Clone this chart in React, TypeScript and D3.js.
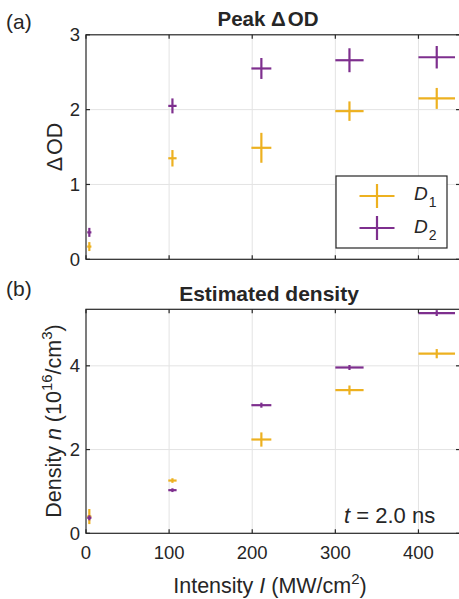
import React from "react";
import * as d3 from "d3";

const intensity = [4, 104, 211, 317, 422];
const intensityErr = [2.5, 5, 12, 17, 22];
const odD1 = [0.17, 1.35, 1.49, 1.98, 2.15];
const odD1Err = [0.06, 0.11, 0.2, 0.13, 0.14];
const odD2 = [0.36, 2.05, 2.55, 2.66, 2.7];
const odD2Err = [0.06, 0.1, 0.14, 0.16, 0.15];
const nD1 = [0.4, 1.26, 2.24, 3.42, 4.29];
const nD1Err = [0.18, 0.055, 0.17, 0.11, 0.11];
const nD2 = [0.37, 1.03, 3.06, 3.96, 5.26];
const nD2Err = [0.06, 0.045, 0.06, 0.06, 0.07];
const xTicks = [0, 100, 200, 300, 400];
const odTicks = [0, 1, 2, 3];
const nTicks = [0, 2, 4];

const C1 = "#EDB120";
const C2 = "#7E2F8E";
const AX = "#262626";
const GRID = "#e3e3e3";
const FONT = "'Liberation Sans', Arial, Helvetica, sans-serif";
const TICK_FS = 18.5;
const LABEL_FS = 21.5;

const x = d3.scaleLinear().domain([0, 450]).range([86, 460]);
const yTop = d3.scaleLinear().domain([0, 3]).range([259.3, 34.8]);
const yBot = d3.scaleLinear().domain([0, 5.35]).range([533.3, 309.3]);

function ErrSeries({ xs, xe, ys, ye, y, color }: any) {
  return (
    <g stroke={color} strokeWidth={2.2} fill="none">
      {xs.map((xv: number, i: number) => (
        <g key={i}>
          <line x1={x(xv - xe[i])} x2={x(xv + xe[i])} y1={y(ys[i])} y2={y(ys[i])} />
          <line x1={x(xv)} x2={x(xv)} y1={y(ys[i] - ye[i])} y2={y(ys[i] + ye[i])} />
        </g>
      ))}
    </g>
  );
}

function Grid({ y, yTicks }: any) {
  const [x0, x1] = x.range();
  const [y0, y1] = y.range();
  return (
    <g stroke={GRID} strokeWidth={1}>
      {xTicks.filter((t) => t > 0).map((t) => (
        <line key={"gx" + t} x1={x(t)} x2={x(t)} y1={y0} y2={y1} />
      ))}
      {yTicks.filter((t: number) => t > 0 && y(t) > y1 + 1).map((t: number) => (
        <line key={"gy" + t} x1={x0} x2={x1} y1={y(t)} y2={y(t)} />
      ))}
    </g>
  );
}

function Frame({ y, yTicks, showXLabels }: any) {
  const [x0, x1] = x.range();
  const [y0, y1] = y.range();
  return (
    <g>
      <g stroke={AX} strokeWidth={1.2}>
        <rect x={x0} y={y1} width={x1 - x0} height={y0 - y1} fill="none" />
        {xTicks.map((t) => (
          <g key={"tx" + t}>
            <line x1={x(t)} x2={x(t)} y1={y0} y2={y0 - 4} />
            <line x1={x(t)} x2={x(t)} y1={y1} y2={y1 + 4} />
          </g>
        ))}
        {yTicks.map((t: number) => (
          <g key={"ty" + t}>
            <line x1={x0} x2={x0 + 4} y1={y(t)} y2={y(t)} />
            <line x1={x1} x2={x1 - 4} y1={y(t)} y2={y(t)} />
          </g>
        ))}
      </g>
      <g fontFamily={FONT} fontSize={TICK_FS} fill={AX}>
        {yTicks.map((t: number) => (
          <text key={"ly" + t} x={x0 - 6} y={y(t)} dy="0.36em" textAnchor="end">
            {t}
          </text>
        ))}
        {showXLabels &&
          xTicks.map((t) => (
            <text key={"lx" + t} x={x(t)} y={y0 + 26} textAnchor="middle">
              {t}
            </text>
          ))}
      </g>
    </g>
  );
}

export default function App() {
  return (
    <svg width={459} height={599} style={{ position: "absolute", left: 0, top: 0, background: "#fff" }}>
      <rect width={459} height={599} fill="#fff" />
      {/* Panel (a) */}
      <Grid y={yTop} yTicks={odTicks} />
      <ErrSeries xs={intensity} xe={intensityErr} ys={odD1} ye={odD1Err} y={yTop} color={C1} />
      <ErrSeries xs={intensity} xe={intensityErr} ys={odD2} ye={odD2Err} y={yTop} color={C2} />
      <Frame y={yTop} yTicks={odTicks} showXLabels={false} />
      <g>
        <rect x={336} y={176} width={111} height={72} fill="#fff" stroke={AX} strokeWidth={1.2} />
        <g stroke={C1} strokeWidth={2.2}>
          <line x1={359.5} x2={394.5} y1={196} y2={196} />
          <line x1={377} x2={377} y1={184} y2={208} />
        </g>
        <g stroke={C2} strokeWidth={2.2}>
          <line x1={359.5} x2={394.5} y1={228} y2={228} />
          <line x1={377} x2={377} y1={216} y2={240} />
        </g>
        <g fontFamily={FONT} fontSize={19} fill={AX}>
          <text x={414} y={199.5}>
            <tspan fontStyle="italic">D</tspan>
            <tspan fontSize={14} dx={1} dy={7}>1</tspan>
          </text>
          <text x={414} y={232.5}>
            <tspan fontStyle="italic">D</tspan>
            <tspan fontSize={14} dx={1} dy={7}>2</tspan>
          </text>
        </g>
      </g>
      {/* Panel (b) */}
      <Grid y={yBot} yTicks={nTicks} />
      <ErrSeries xs={intensity} xe={intensityErr} ys={nD1} ye={nD1Err} y={yBot} color={C1} />
      <ErrSeries xs={intensity} xe={intensityErr} ys={nD2} ye={nD2Err} y={yBot} color={C2} />
      <Frame y={yBot} yTicks={nTicks} showXLabels={true} />

      <g fontFamily={FONT} fill={AX}>
        <text x={6} y={28.5} fontSize={21}>(a)</text>
        <text x={268} y={26} fontSize={20.5} fontWeight="bold" textAnchor="middle">
          Peak Δ<tspan dx={2}>OD</tspan>
        </text>
        <text x={6} y={296} fontSize={21}>(b)</text>
        <text x={269} y={300.5} fontSize={21} fontWeight="bold" textAnchor="middle">Estimated density</text>
        <text transform="translate(61.5,147) rotate(-90)" fontSize={LABEL_FS} textAnchor="middle">
          Δ<tspan dx={2}>OD</tspan>
        </text>
        <text transform="translate(60.5,421) rotate(-90)" fontSize={LABEL_FS} textAnchor="middle">
          Density <tspan fontStyle="italic">n</tspan> (10
          <tspan fontSize={15} dy={-9}>16</tspan>
          <tspan dy={9}>/cm</tspan>
          <tspan fontSize={15} dy={-9}>3</tspan>
          <tspan dy={9}>)</tspan>
        </text>
        <text x={270} y={593} fontSize={LABEL_FS} textAnchor="middle">
          Intensity <tspan fontStyle="italic">I</tspan> (MW/cm
          <tspan fontSize={15} dy={-9}>2</tspan>
          <tspan dy={9}>)</tspan>
        </text>
        <text x={344} y={522.5} fontSize={22}>
          <tspan fontStyle="italic">t</tspan> = 2.0 ns
        </text>
      </g>
    </svg>
  );
}
